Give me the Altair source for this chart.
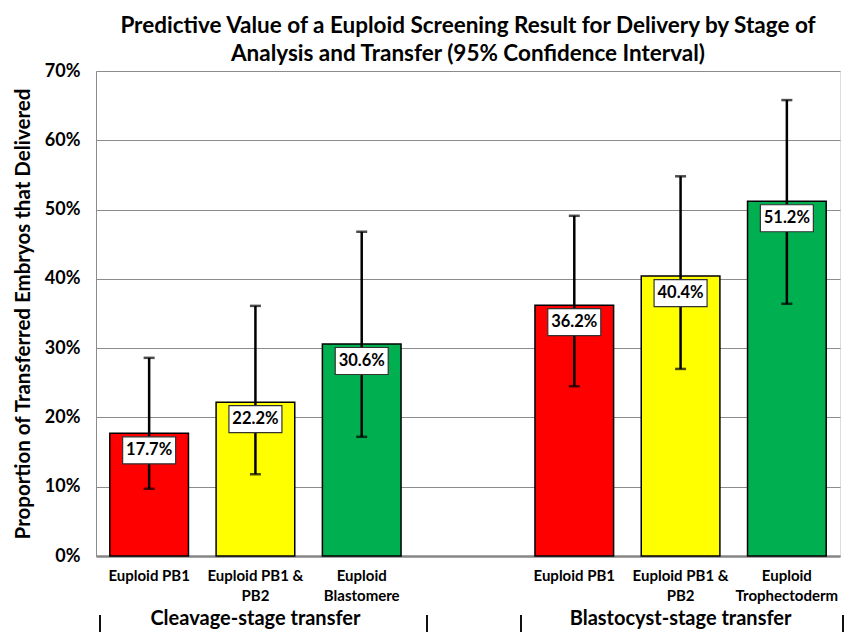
import altair as alt
import pandas as pd

# ---- data ----
keys = ["c1", "c2", "c3", "gap", "b1", "b2", "b3"]
tick_labels = {
    "c1": ["Euploid PB1"],
    "c2": ["Euploid PB1 &", "PB2"],
    "c3": ["Euploid", "Blastomere"],
    "gap": [""],
    "b1": ["Euploid PB1"],
    "b2": ["Euploid PB1 &", "PB2"],
    "b3": ["Euploid", "Trophectoderm"],
}
bar_keys = ["c1", "c2", "c3", "b1", "b2", "b3"]
values = [17.7, 22.2, 30.6, 36.2, 40.4, 51.2]
lower = [9.7, 11.8, 17.2, 24.5, 27.0, 36.4]
upper = [28.6, 36.1, 46.8, 49.1, 54.8, 65.8]
colors = ["#FF0000", "#FFFF00", "#00B050", "#FF0000", "#FFFF00", "#00B050"]
group_keys = ["c2", "b2"]
group_names = ["Cleavage-stage transfer", "Blastocyst-stage transfer"]
y_ticks = [0, 10, 20, 30, 40, 50, 60, 70]

FONT = "Lato"
W, H = 744, 485

df = pd.DataFrame({
    "key": bar_keys,
    "value": values,
    "lower": lower,
    "upper": upper,
    "color": colors,
    "label": [f"{v:.1f}%" for v in values],
})
gdf = pd.DataFrame({"key": group_keys, "name": group_names})

# labelExpr mapping key -> lines
parts = []
for k in keys:
    arr = "[" + ",".join("'" + s.replace("'", "\\'") + "'" for s in tick_labels[k]) + "]"
    parts.append(f"datum.value == '{k}' ? {arr}")
label_expr = " : ".join(parts) + " : ''"

xscale = alt.Scale(domain=keys, paddingInner=0.26, paddingOuter=0.13)
x = alt.X("key:N", scale=xscale, sort=keys,
          axis=alt.Axis(title=None, labelAngle=0, ticks=False, labelExpr=label_expr,
                        labelFont=FONT, labelFontSize=15, labelFontWeight="bold",
                        labelColor="black", labelPadding=12, labelLineHeight=20,
                        labelBaseline="top",
                        domainColor="#868686", domainWidth=2.5))
y = alt.Y("value:Q", scale=alt.Scale(domain=[0, 70], nice=False),
          axis=alt.Axis(values=y_ticks, labelExpr="datum.value + '%'",
                        title="Proportion of Transferred Embryos that Delivered",
                        titleFont=FONT, titleFontSize=20.5, titleFontWeight="bold",
                        titleColor="black", titlePadding=11,
                        labelFont=FONT, labelFontSize=18, labelFontWeight="bold",
                        labelColor="black", labelPadding=16, ticks=False,
                        grid=True, gridColor="#8c8c8c", gridWidth=1,
                        domainColor="#8c8c8c", domainWidth=1))

base = alt.Chart(df)

bars = base.mark_bar(stroke="black", strokeWidth=1.5).encode(
    x=x, y=y, color=alt.Color("color:N", scale=None)
)
err = base.mark_rule(color="black", strokeWidth=2.5).encode(
    x=alt.X("key:N", scale=xscale, sort=keys), y="lower:Q", y2="upper:Q"
)
cap_lo = base.mark_tick(color="black", thickness=2.5, size=11).encode(
    x=alt.X("key:N", scale=xscale, sort=keys), y="lower:Q"
)
cap_hi = base.mark_tick(color="black", thickness=2.5, size=11).encode(
    x=alt.X("key:N", scale=xscale, sort=keys), y="upper:Q"
)
box = base.mark_rect(width=53, height=27, fill="white", stroke="#333333",
                     strokeWidth=1.2, yOffset=17).encode(
    x=alt.X("key:N", scale=xscale, sort=keys), y="value:Q"
)
txt = base.mark_text(font=FONT, fontSize=16.5, fontWeight="bold", color="black",
                     yOffset=17, baseline="middle").encode(
    x=alt.X("key:N", scale=xscale, sort=keys), y="value:Q", text="label:N"
)
groups = alt.Chart(gdf).mark_text(font=FONT, fontSize=20, fontWeight="bold",
                                   color="black", baseline="alphabetic").encode(
    x=alt.X("key:N", scale=xscale, sort=keys), y=alt.value(H + 69), text="name:N"
)
sep_x = [4, 331, 425, 747]
seps = [
    alt.Chart(gdf).mark_rule(color="black", strokeWidth=1.5).encode(
        x=alt.value(sx), y=alt.value(H + 59), y2=alt.value(H + 80)
    )
    for sx in sep_x
]

chart = alt.layer(bars, err, cap_lo, cap_hi, box, txt, groups, *seps).properties(
    width=W, height=H,
    autosize=alt.AutoSizeParams(type="none"),
    padding={"left": 88, "top": 63, "right": 5, "bottom": 76},
    title=alt.TitleParams(
        text=["Predictive Value of a Euploid Screening Result for Delivery by Stage of",
              "Analysis and Transfer (95% Confidence Interval)"],
        font=FONT, fontSize=22.5, fontWeight="bold", color="black",
        anchor="middle", lineHeight=28, offset=-3,
    ),
).configure_view(stroke=None).configure(background="white")

chart.save("out.html", embed_options={"renderer": "svg", "actions": False})
